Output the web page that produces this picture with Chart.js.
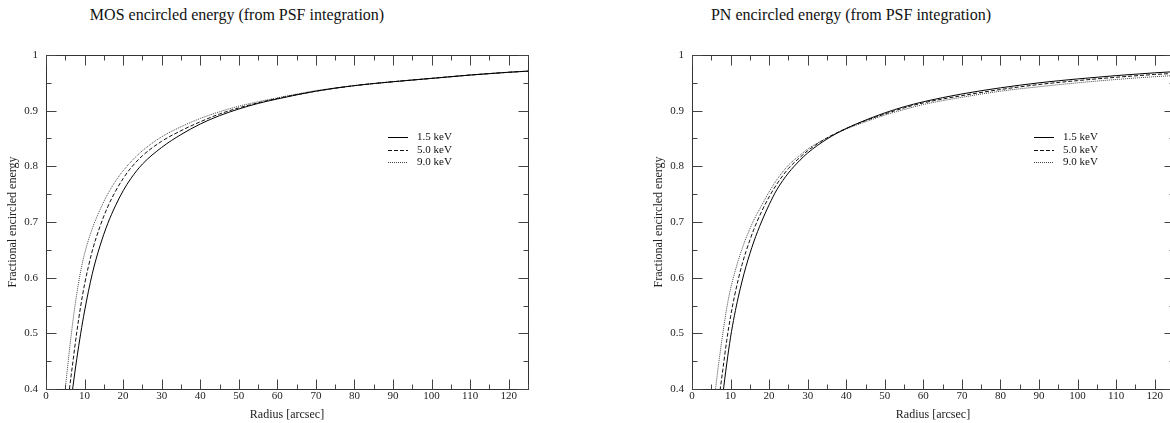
<!DOCTYPE html>
<html>
<head>
<meta charset="utf-8">
<script src="https://cdn.jsdelivr.net/npm/chart.js@4.4.1/dist/chart.umd.min.js"></script>
<style>
    html, body { margin: 0; padding: 0; background: #fff; }
    body { position: relative; width: 1170px; height: 423px; overflow: hidden; }
    .panel { position: absolute; top: 0; width: 585px; height: 423px; }
    .plot-title {
        position: absolute; top: 5px; width: 400px; height: 20px; line-height: 20px;
        text-align: center; font-family: 'Liberation Serif', 'DejaVu Serif', serif; font-size: 16px; color: #111;
    }
</style>
</head>
<body>
<div class="plot-title" style="left: 37px;">MOS encircled energy (from PSF integration)</div>
<div class="plot-title" style="left: 651px;">PN encircled energy (from PSF integration)</div>
<div class="panel" style="left: 0px;"><canvas id="mosChart"></canvas></div>
<div class="panel" style="left: 646px;"><canvas id="pnChart"></canvas></div>
<script>
// ---- data ----
const ENERGY_LABELS = ['1.5 keV', '5.0 keV', '9.0 keV'];

const X_TICKS = [0, 10, 20, 30, 40, 50, 60, 70, 80, 90, 100, 110, 120];
const Y_TICKS = [0.4, 0.5, 0.6, 0.7, 0.8, 0.9, 1];

const MOS_RADIUS = [4, 5, 6, 7, 8, 9, 10, 12, 14, 16, 18, 20, 22, 25, 30, 35, 40, 45, 50, 55, 60, 70, 80, 90, 100, 110, 120, 125];
const MOS_1_5 = [0.22, 0.29, 0.35, 0.405, 0.455, 0.50, 0.54, 0.607, 0.657, 0.697, 0.729, 0.756, 0.778, 0.804, 0.834, 0.857, 0.876, 0.891, 0.903, 0.913, 0.921, 0.935, 0.945, 0.952, 0.958, 0.964, 0.969, 0.971];
const MOS_5_0 = [0.26, 0.33, 0.395, 0.45, 0.503, 0.549, 0.588, 0.648, 0.692, 0.727, 0.755, 0.778, 0.797, 0.819, 0.845, 0.864, 0.880, 0.894, 0.905, 0.914, 0.922, 0.935, 0.945, 0.952, 0.958, 0.964, 0.969, 0.971];
const MOS_9_0 = [0.33, 0.40, 0.465, 0.523, 0.572, 0.612, 0.643, 0.688, 0.722, 0.750, 0.773, 0.792, 0.808, 0.828, 0.853, 0.871, 0.886, 0.898, 0.908, 0.916, 0.923, 0.936, 0.945, 0.952, 0.958, 0.964, 0.969, 0.971];

const PN_RADIUS = [5, 6, 7, 8, 9, 10, 11, 12, 13, 14, 16, 18, 20, 22, 25, 28, 30, 35, 40, 45, 50, 55, 60, 70, 80, 90, 100, 110, 120, 125];
const PN_1_5 = [0.22, 0.27, 0.33, 0.39, 0.445, 0.493, 0.532, 0.565, 0.594, 0.62, 0.664, 0.700, 0.731, 0.758, 0.788, 0.811, 0.824, 0.849, 0.868, 0.883, 0.896, 0.907, 0.916, 0.930, 0.941, 0.950, 0.957, 0.963, 0.968, 0.970];
const PN_5_0 = [0.28, 0.33, 0.383, 0.435, 0.487, 0.53, 0.566, 0.597, 0.624, 0.647, 0.686, 0.718, 0.745, 0.768, 0.796, 0.816, 0.828, 0.851, 0.868, 0.882, 0.894, 0.905, 0.914, 0.927, 0.938, 0.947, 0.954, 0.960, 0.965, 0.967];
const PN_9_0 = [0.34, 0.395, 0.45, 0.50, 0.545, 0.58, 0.607, 0.631, 0.652, 0.671, 0.703, 0.729, 0.754, 0.776, 0.802, 0.820, 0.831, 0.851, 0.867, 0.880, 0.892, 0.902, 0.911, 0.924, 0.935, 0.943, 0.950, 0.956, 0.961, 0.963];

// ---- styles ----
const SERIF = "'Liberation Serif', 'DejaVu Serif', serif";
const AXIS_COLOR = '#333';
const TICK_COLOR = '#444';
const LINE_STYLES = [
    { color: '#000', dash: [] },
    { color: '#111', dash: [4, 2] },
    { color: '#444', dash: [1, 1] }
];

// 內向刻度 + 邊框
const frameTicks = {
    id: 'frameTicks',
    afterDraw(chart) {
        const { ctx, chartArea: a, scales: { x, y } } = chart;
        const L = Math.round(a.left) + 0.5, R = Math.round(a.right) + 0.5;
        const T = Math.round(a.top) + 0.5, B = Math.round(a.bottom) + 0.5;
        ctx.save();
        ctx.setLineDash([]);
        ctx.lineWidth = 1;
        ctx.strokeStyle = AXIS_COLOR;
        ctx.strokeRect(L, T, R - L, B - T);

        // minor ticks every 5 arcsec / 0.05, major on the labelled values
        ctx.strokeStyle = TICK_COLOR;
        ctx.beginPath();
        for (let v = 0; v <= 125; v += 5) {
            const px = Math.round(x.getPixelForValue(v)) + 0.5;
            const len = (v % 10 === 0) ? 10 : 5;
            ctx.moveTo(px, B); ctx.lineTo(px, B - len);
            ctx.moveTo(px, T); ctx.lineTo(px, T + len);
        }
        for (let i = 0; i <= 12; i++) {
            const v = 0.4 + i * 0.05;
            const py = Math.round(y.getPixelForValue(v)) + 0.5;
            const len = (i % 2 === 0) ? 10 : 5;
            ctx.moveTo(L, py); ctx.lineTo(L + len, py);
            ctx.moveTo(R, py); ctx.lineTo(R - len, py);
        }
        ctx.stroke();
        ctx.restore();
    }
};

// 圖內圖例
const insetLegend = {
    id: 'insetLegend',
    afterDraw(chart) {
        const { ctx, chartArea: a } = chart;
        ctx.save();
        ctx.font = '11px ' + SERIF;
        ctx.textBaseline = 'middle';
        ctx.fillStyle = '#111';
        chart.data.datasets.forEach((ds, i) => {
            const yy = Math.round(a.top + 82 + i * 12.5) + 0.5;
            ctx.strokeStyle = ds.borderColor;
            ctx.lineWidth = 1;
            ctx.setLineDash(ds.borderDash || []);
            ctx.beginPath();
            ctx.moveTo(a.left + 342, yy);
            ctx.lineTo(a.left + 362, yy);
            ctx.stroke();
            ctx.setLineDash([]);
            ctx.fillText(ds.label, a.left + 371, yy);
        });
        ctx.restore();
    }
};

function makeSeries(radius, values, i) {
    return {
        label: ENERGY_LABELS[i],
        data: radius.map((r, k) => ({ x: r, y: values[k] })),
        borderColor: LINE_STYLES[i].color,
        borderDash: LINE_STYLES[i].dash,
        borderWidth: 1,
        pointRadius: 0,
        fill: false,
        cubicInterpolationMode: 'monotone'
    };
}

function buildChart(canvasId, radius, seriesList) {
    const ctx = document.getElementById(canvasId);
    return new Chart(ctx, {
        type: 'line',
        data: { datasets: seriesList.map((vals, i) => makeSeries(radius, vals, i)) },
        options: {
            responsive: true,
            maintainAspectRatio: false,
            animation: false,
            devicePixelRatio: 1,
            layout: { padding: { top: 55, right: 57, left: 0, bottom: 0 } },
            plugins: { legend: { display: false }, tooltip: { enabled: false }, title: { display: false } },
            scales: {
                x: {
                    type: 'linear', min: 0, max: 125,
                    grid: { display: false, drawTicks: false },
                    border: { display: false },
                    afterBuildTicks: s => { s.ticks = X_TICKS.map(v => ({ value: v })); },
                    afterFit: s => { s.height = 34; },
                    ticks: { padding: 1, color: '#222', font: { family: SERIF, size: 11 }, maxRotation: 0, autoSkip: false },
                    title: { display: true, text: 'Radius [arcsec]', color: '#222',
                        font: { family: SERIF, size: 12 }, padding: { top: 0, bottom: 1 } }
                },
                y: {
                    type: 'linear', min: 0.4, max: 1,
                    grid: { display: false, drawTicks: false },
                    border: { display: false },
                    afterBuildTicks: s => { s.ticks = Y_TICKS.map(v => ({ value: v })); },
                    afterFit: s => { s.width = 46; },
                    ticks: { padding: 8, color: '#222', font: { family: SERIF, size: 11 },
                        callback: v => String(+v.toFixed(2)) },
                    title: { display: true, text: 'Fractional encircled energy', color: '#222',
                        font: { family: SERIF, size: 12 }, padding: { top: 6, bottom: 0 } }
                }
            }
        },
        plugins: [frameTicks, insetLegend]
    });
}

buildChart('mosChart', MOS_RADIUS, [MOS_1_5, MOS_5_0, MOS_9_0]);
buildChart('pnChart', PN_RADIUS, [PN_1_5, PN_5_0, PN_9_0]);
</script>
</body>
</html>
